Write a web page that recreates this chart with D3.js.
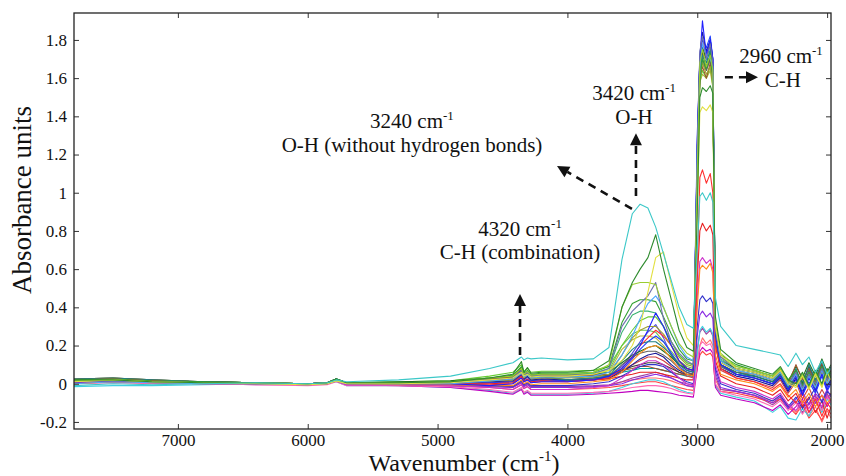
<!DOCTYPE html>
<html>
<head>
<meta charset="utf-8">
<script src="https://cdn.jsdelivr.net/npm/d3@7"></script>
<style>
body { margin: 0; background: #fff; }
svg { display: block; }
text { font-family: "Liberation Serif", "Times New Roman", Times, serif; }
</style>
</head>
<body>
<svg id="chart" width="846" height="476"></svg>
<script>
// wavenumber grid shared by every spectrum (cm-1)
const wavenumbers = [
  7800, 7500, 7200, 6800, 6400, 6000, 5850, 5780, 5700, 5300, 4900, 4600, 4420,
  4354, 4335, 4308, 4280, 4200,
  4000, 3800, 3680, 3580, 3500, 3440, 3380, 3320, 3260, 3200, 3140, 3080, 3030,
  3000, 2980, 2960, 2930, 2900, 2880, 2860, 2820,
  2700, 2560, 2420, 2360, 2300, 2240, 2190, 2140, 2090, 2040, 2000, 1970
];

// absorbance of each spectrum at the wavenumbers above
const s01 = [-0.01, 0.0, -0.005, 0.0, 0.005, 0.0, 0.005, 0.02, 0.01, 0.02, 0.04, 0.08, 0.11,
  0.14, 0.125, 0.135, 0.13, 0.135,
  0.125, 0.13, 0.19, 0.65, 0.89, 0.94, 0.92, 0.82, 0.68, 0.54, 0.40, 0.31, 0.29,
  0.7, 0.98, 1.0, 0.96, 1.0, 0.95, 0.45, 0.3,
  0.2, 0.18, 0.16, 0.15, 0.09, 0.16, 0.1, 0.14, 0.06, 0.12, 0.05, 0.08];
const s02 = [0.02, 0.02, 0.01, 0.005, 0.005, 0.0, 0.005, 0.025, 0.005, 0.005, 0.01, 0.03, 0.05,
  0.116, 0.06, 0.085, 0.055, 0.06,
  0.06, 0.07, 0.12, 0.4, 0.53, 0.6, 0.66, 0.78, 0.6, 0.44, 0.28, 0.19, 0.17,
  0.9, 1.5, 1.55, 1.53, 1.56, 1.52, 0.35, 0.18,
  0.11, 0.08, 0.05, 0.09, 0.02, 0.0, 0.06, -0.01, 0.07, 0.0, 0.08, 0.03];
const s03 = [0.01, 0.02, 0.01, 0.005, 0.0, -0.005, 0.0, 0.015, 0.0, 0.0, 0.005, 0.02, 0.03,
  0.06, 0.04, 0.05, 0.035, 0.04,
  0.04, 0.05, 0.07, 0.12, 0.2, 0.3, 0.48, 0.66, 0.69, 0.52, 0.36, 0.24, 0.2,
  0.9, 1.42, 1.45, 1.43, 1.46, 1.42, 0.3, 0.15,
  0.08, 0.06, 0.03, 0.07, 0.0, -0.02, 0.04, -0.03, 0.05, -0.02, 0.06, 0.02];
const s04 = [0.015, 0.02, 0.01, 0.005, 0.005, 0.0, 0.005, 0.02, 0.005, 0.005, 0.01, 0.03, 0.04,
  0.08, 0.05, 0.065, 0.045, 0.05,
  0.05, 0.06, 0.1, 0.4, 0.52, 0.53, 0.53, 0.52, 0.4, 0.3, 0.21, 0.16, 0.14,
  1.1, 1.68, 1.75, 1.66, 1.72, 1.64, 0.32, 0.16,
  0.09, 0.07, 0.04, 0.08, 0.01, -0.01, 0.05, -0.02, 0.06, -0.01, 0.07, 0.03];
const s05 = [0.01, 0.015, 0.01, 0.005, 0.005, 0.0, 0.005, 0.02, 0.005, 0.0, 0.005, 0.02, 0.03,
  0.07, 0.045, 0.06, 0.04, 0.045,
  0.045, 0.05, 0.08, 0.3, 0.38, 0.42, 0.46, 0.53, 0.34, 0.22, 0.16, 0.12, 0.1,
  1.2, 1.74, 1.82, 1.7, 1.78, 1.68, 0.28, 0.14,
  0.08, 0.06, 0.03, 0.07, 0.0, 0.06, -0.02, 0.05, 0.0, 0.08, 0.02, 0.05];
const s06 = [0.0, 0.01, 0.005, 0.0, 0.0, -0.005, 0.0, 0.015, 0.0, 0.0, 0.0, 0.015, 0.025,
  0.055, 0.035, 0.045, 0.03, 0.035,
  0.035, 0.04, 0.06, 0.15, 0.25, 0.34, 0.42, 0.46, 0.4, 0.3, 0.2, 0.14, 0.12,
  1.2, 1.66, 1.78, 1.72, 1.7, 1.66, 0.3, 0.12,
  0.07, 0.05, 0.02, 0.06, -0.01, 0.05, -0.03, 0.04, -0.02, 0.07, 0.0, 0.04];
const s07 = [0.02, 0.025, 0.015, 0.01, 0.005, 0.0, 0.005, 0.025, 0.005, 0.005, 0.01, 0.03, 0.045,
  0.09, 0.055, 0.07, 0.05, 0.055,
  0.055, 0.06, 0.09, 0.32, 0.42, 0.44, 0.44, 0.43, 0.35, 0.26, 0.18, 0.13, 0.12,
  1.0, 1.6, 1.7, 1.65, 1.73, 1.6, 0.3, 0.15,
  0.1, 0.07, 0.04, 0.08, 0.02, 0.07, -0.01, 0.06, 0.0, 0.09, 0.02, 0.06];
const s08 = [0.01, 0.015, 0.01, 0.005, 0.0, 0.0, 0.005, 0.02, 0.0, 0.0, 0.0, -0.01, 0.0,
  0.03, 0.01, 0.02, 0.005, 0.01,
  0.01, 0.02, 0.04, 0.08, 0.14, 0.2, 0.28, 0.37, 0.3, 0.2, 0.12, 0.08, 0.07,
  1.3, 1.7, 1.9, 1.72, 1.8, 1.7, 0.25, 0.1,
  0.05, 0.03, 0.0, 0.04, -0.03, 0.04, -0.06, 0.03, -0.04, 0.05, -0.03, 0.01];
const s09 = [0.015, 0.02, 0.01, 0.005, 0.005, 0.0, 0.005, 0.02, 0.005, 0.0, 0.005, 0.015, 0.02,
  0.055, 0.03, 0.045, 0.025, 0.03,
  0.03, 0.035, 0.05, 0.15, 0.24, 0.28, 0.3, 0.3, 0.26, 0.2, 0.14, 0.1, 0.09,
  1.1, 1.6, 1.68, 1.62, 1.66, 1.58, 0.25, 0.12,
  0.07, 0.05, 0.02, 0.06, -0.01, 0.04, -0.03, 0.03, -0.02, 0.06, 0.0, 0.03];
const s10 = [0.02, 0.025, 0.015, 0.005, 0.005, 0.0, 0.005, 0.02, 0.0, 0.0, 0.0, -0.005, 0.0,
  0.035, 0.01, 0.02, 0.005, 0.01,
  0.01, 0.02, 0.03, 0.08, 0.14, 0.2, 0.24, 0.28, 0.25, 0.2, 0.12, 0.08, 0.07,
  0.6, 1.08, 1.12, 1.05, 1.1, 1.0, 0.2, 0.08,
  0.03, 0.01, -0.03, 0.0, -0.06, -0.1, -0.05, -0.15, -0.08, -0.17, -0.1, -0.13];
const s11 = [0.025, 0.03, 0.02, 0.01, 0.005, 0.0, 0.005, 0.025, 0.005, 0.005, 0.01, 0.02, 0.03,
  0.07, 0.04, 0.055, 0.035, 0.04,
  0.02, 0.03, 0.04, 0.12, 0.18, 0.21, 0.22, 0.22, 0.19, 0.15, 0.1, 0.07, 0.06,
  1.15, 1.65, 1.72, 1.68, 1.74, 1.62, 0.24, 0.1,
  0.06, 0.04, 0.01, 0.05, -0.02, 0.08, -0.01, 0.1, 0.02, 0.12, 0.04, 0.09];
const s12 = [0.0, 0.01, 0.005, 0.0, 0.0, -0.005, 0.0, 0.015, 0.0, -0.005, -0.005, -0.01, -0.01,
  0.02, 0.0, 0.01, -0.005, 0.0,
  0.0, 0.01, 0.02, 0.06, 0.12, 0.16, 0.19, 0.2, 0.18, 0.13, 0.08, 0.05, 0.04,
  0.4, 0.6, 0.62, 0.6, 0.63, 0.58, 0.15, 0.05,
  0.02, 0.0, -0.04, -0.01, -0.07, -0.03, -0.1, -0.05, -0.12, -0.06, -0.1, -0.08];
const s13 = [0.02, 0.025, 0.015, 0.01, 0.005, 0.0, 0.005, 0.025, 0.005, 0.005, 0.005, 0.015, 0.02,
  0.06, 0.035, 0.05, 0.03, 0.035,
  0.02, 0.03, 0.035, 0.1, 0.14, 0.16, 0.17, 0.17, 0.15, 0.12, 0.08, 0.06, 0.05,
  1.1, 1.62, 1.7, 1.64, 1.7, 1.6, 0.22, 0.09,
  0.05, 0.03, 0.0, 0.04, -0.03, 0.05, -0.02, 0.07, -0.01, 0.09, 0.03, 0.06];
const s14 = [0.015, 0.02, 0.01, 0.005, 0.0, -0.005, 0.0, 0.015, -0.005, -0.005, -0.01, -0.02, -0.03,
  -0.005, -0.025, -0.015, -0.03, -0.03,
  -0.03, -0.02, -0.01, 0.03, 0.07, 0.1, 0.12, 0.12, 0.1, 0.07, 0.03, 0.0, -0.01,
  0.45, 0.64, 0.66, 0.63, 0.65, 0.6, 0.1, 0.01,
  -0.02, -0.04, -0.08, -0.05, -0.11, -0.14, -0.09, -0.13, -0.07, -0.12, -0.06, -0.09];
const s15 = [0.01, 0.015, 0.01, 0.005, 0.0, 0.0, 0.005, 0.02, 0.0, 0.0, -0.005, -0.01, -0.015,
  0.015, -0.005, 0.005, -0.01, -0.01,
  -0.01, 0.0, 0.01, 0.04, 0.07, 0.09, 0.1, 0.1, 0.09, 0.06, 0.03, 0.01, 0.0,
  0.3, 0.44, 0.46, 0.43, 0.45, 0.42, 0.08, 0.0,
  -0.03, -0.05, -0.09, -0.06, -0.12, -0.07, -0.13, -0.08, -0.02, -0.1, -0.04, -0.06];
const s16 = [0.025, 0.03, 0.02, 0.01, 0.005, 0.0, 0.005, 0.025, 0.005, 0.005, 0.01, 0.025, 0.035,
  0.075, 0.045, 0.06, 0.04, 0.045,
  0.04, 0.045, 0.05, 0.07, 0.08, 0.09, 0.09, 0.08, 0.07, 0.06, 0.05, 0.05, 0.05,
  1.1, 1.6, 1.66, 1.6, 1.68, 1.58, 0.2, 0.1,
  0.06, 0.05, 0.02, 0.06, 0.0, 0.1, 0.02, 0.08, 0.0, 0.11, 0.04, 0.08];
const s17 = [0.01, 0.02, 0.01, 0.005, 0.0, 0.0, 0.0, 0.015, 0.0, 0.0, 0.0, 0.0, 0.005,
  0.04, 0.015, 0.025, 0.01, 0.015,
  0.01, 0.02, 0.025, 0.04, 0.05, 0.06, 0.06, 0.06, 0.05, 0.04, 0.03, 0.02, 0.02,
  0.55, 0.8, 0.84, 0.8, 0.83, 0.78, 0.12, 0.04,
  0.0, -0.02, -0.06, -0.03, -0.09, -0.05, -0.12, -0.07, -0.15, -0.09, -0.18, -0.12];
const s18 = [0.005, 0.01, 0.005, 0.0, 0.0, -0.005, 0.0, 0.015, -0.005, -0.005, -0.01, -0.015, -0.02,
  0.005, -0.015, -0.005, -0.02, -0.02,
  -0.02, -0.015, -0.01, 0.0, 0.02, 0.03, 0.04, 0.05, 0.04, 0.03, 0.01, -0.01, -0.015,
  0.25, 0.36, 0.38, 0.35, 0.37, 0.34, 0.06, -0.02,
  -0.04, -0.06, -0.1, -0.07, -0.13, -0.08, -0.04, -0.11, -0.05, -0.09, -0.03, -0.07];
const s19 = [0.025, 0.03, 0.02, 0.01, 0.005, 0.0, 0.005, 0.025, 0.005, 0.01, 0.015, 0.03, 0.04,
  0.085, 0.05, 0.065, 0.045, 0.05,
  0.045, 0.05, 0.06, 0.11, 0.15, 0.17, 0.19, 0.2, 0.17, 0.14, 0.1, 0.08, 0.07,
  1.2, 1.7, 1.76, 1.7, 1.78, 1.66, 0.26, 0.12,
  0.08, 0.06, 0.03, 0.07, 0.01, 0.09, 0.03, 0.11, 0.04, 0.13, 0.06, 0.1];
const s20 = [0.0, 0.005, 0.0, 0.0, -0.005, -0.01, -0.005, 0.01, -0.01, -0.01, -0.015, -0.03, -0.045,
  -0.02, -0.045, -0.035, -0.05, -0.05,
  -0.05, -0.045, -0.04, -0.03, -0.02, -0.015, -0.01, -0.01, -0.015, -0.025, -0.04, -0.05, -0.055,
  0.1, 0.2, 0.22, 0.2, 0.21, 0.18, 0.0, -0.04,
  -0.06, -0.08, -0.12, -0.09, -0.14, -0.1, -0.16, -0.11, -0.08, -0.14, -0.07, -0.1];
const s21 = [0.01, 0.015, 0.01, 0.0, -0.005, -0.005, 0.0, 0.015, -0.005, -0.01, -0.02, -0.04, -0.055,
  -0.03, -0.055, -0.045, -0.06, -0.06,
  -0.06, -0.055, -0.05, -0.045, -0.04, -0.035, -0.035, -0.04, -0.045, -0.05, -0.06, -0.065, -0.07,
  0.08, 0.17, 0.19, 0.17, 0.18, 0.16, -0.02, -0.06,
  -0.08, -0.1, -0.14, -0.11, -0.16, -0.12, -0.08, -0.15, -0.1, -0.06, -0.12, -0.08];
const s22 = [-0.015, -0.01, -0.01, -0.005, 0.0, -0.005, 0.0, 0.01, -0.01, -0.01, -0.02, -0.035, -0.05,
  -0.025, -0.05, -0.04, -0.055, -0.055,
  -0.055, -0.05, -0.04, -0.02, 0.0, 0.01, 0.02, 0.02, 0.01, -0.01, -0.03, -0.045, -0.05,
  0.15, 0.28, 0.3, 0.27, 0.29, 0.26, -0.01, -0.05,
  -0.07, -0.09, -0.15, -0.12, -0.18, -0.19, -0.13, -0.17, -0.09, -0.15, -0.08, -0.11];
const s23 = [0.02, 0.025, 0.015, 0.01, 0.005, 0.0, 0.005, 0.02, 0.005, 0.01, 0.015, 0.04, 0.06,
  0.1, 0.065, 0.08, 0.06, 0.065,
  0.065, 0.07, 0.09, 0.2, 0.28, 0.33, 0.35, 0.35, 0.3, 0.22, 0.15, 0.11, 0.1,
  1.05, 1.58, 1.64, 1.6, 1.66, 1.56, 0.28, 0.14,
  0.09, 0.07, 0.04, 0.08, 0.02, 0.06, -0.01, 0.05, 0.01, 0.08, 0.03, 0.06];
const s24 = [0.015, 0.02, 0.01, 0.005, 0.0, 0.0, 0.005, 0.02, 0.0, 0.0, 0.005, 0.01, 0.015,
  0.05, 0.025, 0.04, 0.02, 0.025,
  0.02, 0.025, 0.03, 0.06, 0.1, 0.13, 0.15, 0.16, 0.14, 0.1, 0.07, 0.05, 0.04,
  1.25, 1.72, 1.84, 1.74, 1.8, 1.7, 0.22, 0.08,
  0.04, 0.02, -0.01, 0.03, -0.04, 0.03, -0.05, 0.05, -0.03, 0.07, -0.01, 0.02];
const s25 = [0.0, 0.01, 0.005, 0.0, 0.0, -0.005, 0.0, 0.015, -0.005, -0.005, -0.01, -0.02, -0.03,
  -0.005, -0.025, -0.015, -0.03, -0.03,
  -0.03, -0.025, -0.02, -0.01, 0.0, 0.005, 0.01, 0.01, 0.0, -0.01, -0.02, -0.03, -0.035,
  0.08, 0.15, 0.17, 0.15, 0.16, 0.14, -0.01, -0.04,
  -0.05, -0.07, -0.1, -0.08, -0.12, -0.16, -0.11, -0.18, -0.14, -0.19, -0.13, -0.16];
const s26 = [0.02, 0.025, 0.015, 0.01, 0.005, 0.0, 0.005, 0.025, 0.005, 0.005, 0.01, 0.02, 0.025,
  0.065, 0.04, 0.055, 0.035, 0.04,
  0.035, 0.04, 0.045, 0.07, 0.09, 0.1, 0.11, 0.11, 0.1, 0.08, 0.06, 0.05, 0.05,
  1.15, 1.64, 1.74, 1.66, 1.72, 1.62, 0.22, 0.1,
  0.06, 0.04, 0.01, 0.05, -0.02, 0.07, 0.0, 0.09, 0.02, 0.1, 0.03, 0.07];
const s27 = [0.02, 0.025, 0.015, 0.01, 0.005, 0.0, 0.005, 0.025, 0.005, 0.005, 0.01, 0.03, 0.04,
  0.08, 0.05, 0.065, 0.045, 0.05,
  0.05, 0.055, 0.08, 0.27, 0.36, 0.38, 0.38, 0.37, 0.3, 0.22, 0.15, 0.11, 0.1,
  1.1, 1.66, 1.72, 1.66, 1.7, 1.62, 0.28, 0.13,
  0.08, 0.06, 0.03, 0.07, 0.0, 0.05, -0.02, 0.04, 0.0, 0.07, 0.02, 0.05];
const s28 = [0.01, 0.015, 0.01, 0.005, 0.0, 0.0, 0.005, 0.02, 0.0, 0.0, 0.0, 0.005, 0.01,
  0.045, 0.02, 0.035, 0.015, 0.02,
  0.015, 0.02, 0.03, 0.07, 0.13, 0.18, 0.22, 0.25, 0.22, 0.16, 0.1, 0.07, 0.06,
  1.2, 1.7, 1.8, 1.76, 1.82, 1.7, 0.24, 0.1,
  0.05, 0.03, 0.0, 0.04, -0.03, 0.02, -0.06, 0.01, -0.05, 0.04, -0.04, 0.0];
const s29 = [0.02, 0.02, 0.015, 0.01, 0.005, 0.0, 0.005, 0.02, 0.005, 0.005, 0.01, 0.02, 0.03,
  0.065, 0.04, 0.05, 0.035, 0.04,
  0.04, 0.045, 0.06, 0.18, 0.23, 0.25, 0.25, 0.24, 0.2, 0.15, 0.11, 0.08, 0.07,
  1.1, 1.58, 1.62, 1.6, 1.64, 1.55, 0.24, 0.11,
  0.07, 0.05, 0.02, 0.06, -0.01, 0.05, -0.02, 0.06, -0.01, 0.08, 0.01, 0.05];
const s30 = [0.015, 0.02, 0.01, 0.005, 0.0, 0.0, 0.005, 0.02, 0.0, 0.0, 0.0, 0.005, 0.01,
  0.045, 0.02, 0.035, 0.015, 0.02,
  0.015, 0.02, 0.03, 0.07, 0.1, 0.12, 0.14, 0.14, 0.12, 0.09, 0.06, 0.04, 0.03,
  1.15, 1.66, 1.7, 1.74, 1.68, 1.62, 0.2, 0.07,
  0.03, 0.01, -0.02, 0.02, -0.05, 0.01, -0.08, -0.02, -0.1, -0.03, -0.08, -0.05];
const s31 = [0.01, 0.015, 0.01, 0.005, 0.0, 0.0, 0.005, 0.02, 0.0, 0.0, 0.005, 0.01, 0.02,
  0.05, 0.03, 0.04, 0.025, 0.03,
  0.02, 0.03, 0.04, 0.09, 0.16, 0.22, 0.27, 0.31, 0.24, 0.15, 0.09, 0.06, 0.05,
  1.25, 1.7, 1.76, 1.7, 1.8, 1.68, 0.23, 0.1,
  0.05, 0.03, 0.0, 0.04, -0.02, 0.05, -0.04, 0.04, -0.03, 0.06, -0.02, 0.02];
const s32 = [0.02, 0.025, 0.015, 0.01, 0.005, 0.0, 0.005, 0.025, 0.005, 0.005, 0.01, 0.02, 0.03,
  0.07, 0.045, 0.055, 0.04, 0.045,
  0.04, 0.045, 0.05, 0.06, 0.07, 0.08, 0.08, 0.08, 0.07, 0.06, 0.05, 0.04, 0.04,
  1.15, 1.66, 1.72, 1.68, 1.75, 1.64, 0.22, 0.09,
  0.05, 0.04, 0.01, 0.05, -0.01, 0.06, 0.01, 0.08, 0.01, 0.1, 0.03, 0.07];
const s33 = [0.02, 0.025, 0.015, 0.01, 0.005, 0.0, 0.005, 0.02, 0.005, 0.005, 0.01, 0.025, 0.035,
  0.075, 0.045, 0.06, 0.04, 0.045,
  0.045, 0.05, 0.07, 0.2, 0.26, 0.28, 0.28, 0.27, 0.22, 0.17, 0.12, 0.09, 0.08,
  1.1, 1.62, 1.68, 1.64, 1.7, 1.6, 0.26, 0.12,
  0.08, 0.06, 0.03, 0.07, 0.0, 0.06, -0.01, 0.05, 0.0, 0.08, 0.02, 0.06];
const s34 = [0.005, 0.01, 0.005, 0.0, 0.0, -0.005, 0.0, 0.015, -0.005, -0.005, -0.01, -0.01, -0.015,
  0.01, -0.01, 0.0, -0.015, -0.015,
  -0.015, -0.01, -0.005, 0.01, 0.03, 0.04, 0.05, 0.06, 0.05, 0.03, 0.01, 0.0, -0.005,
  0.18, 0.27, 0.29, 0.26, 0.28, 0.25, 0.04, -0.03,
  -0.04, -0.06, -0.11, -0.08, -0.13, -0.09, -0.15, -0.1, -0.06, -0.13, -0.05, -0.09];
const s35 = [0.01, 0.015, 0.01, 0.005, 0.0, 0.0, 0.0, 0.015, 0.0, -0.005, -0.005, -0.01, -0.02,
  0.005, -0.015, -0.005, -0.02, -0.02,
  -0.02, -0.015, -0.01, 0.01, 0.02, 0.025, 0.03, 0.03, 0.025, 0.015, 0.0, -0.01, -0.02,
  0.12, 0.2, 0.24, 0.21, 0.23, 0.2, 0.02, -0.03,
  -0.04, -0.06, -0.09, -0.07, -0.11, -0.15, -0.1, -0.17, -0.12, -0.2, -0.14, -0.18];

const spectra = [s01, s02, s03, s04, s05, s06, s07, s08, s09, s10, s11, s12, s13, s14,
  s15, s16, s17, s18, s19, s20, s21, s22, s23, s24, s25, s26, s27, s28,
  s29, s30, s31, s32, s33, s34, s35];
const lineColors = ["#3cc8c8", "#2e8b2e", "#e2e040", "#9acd32", "#7070b0", "#4da6ff", "#33a033",
  "#2020ff", "#a0a030", "#ff3030", "#208080", "#ff8c1a", "#606060", "#cc33cc",
  "#3333cc", "#a0522d", "#e82020", "#8a2be2", "#1f6f1f", "#ff69b4", "#c000c0",
  "#40d0e0", "#66cc33", "#1a1a99", "#ff4040", "#404040", "#3cb371", "#1e40ff",
  "#b5b53a", "#d04040", "#5050e0", "#00a0a0", "#70c050", "#a040a0", "#ff7070"];

const xTicks = [7000, 6000, 5000, 4000, 3000, 2000];
const yTicks = [-0.2, 0, 0.2, 0.4, 0.6, 0.8, 1, 1.2, 1.4, 1.6, 1.8];
const yTickLabels = ["-0.2", "0", "0.2", "0.4", "0.6", "0.8", "1", "1.2", "1.4", "1.6", "1.8"];

// annotation labels and arrows, in data coordinates (wavenumber, absorbance)
const labelLines = [
  {w: 5197, a: 1.339, main: "3240 cm", sup: "-1"},
  {w: 5197, a: 1.213, main: "O-H (without hydrogen bonds)"},
  {w: 3487, a: 1.485, main: "3420 cm", sup: "-1"},
  {w: 3487, a: 1.360, main: "O-H"},
  {w: 2355, a: 1.679, main: "2960 cm", sup: "-1"},
  {w: 2340, a: 1.553, main: "C-H"},
  {w: 4365, a: 0.773, main: "4320 cm", sup: "-1"},
  {w: 4365, a: 0.653, main: "C-H (combination)"}
];
const arrows = [
  {w0: 2787, a0: 1.605, w1: 2532, a1: 1.605},
  {w0: 3472, a0: 0.983, w1: 3472, a1: 1.312},
  {w0: 3503, a0: 0.916, w1: 4080, a1: 1.140},
  {w0: 4365, a0: 0.150, w1: 4365, a1: 0.470}
];

const svg = d3.select("#chart");
const plotL = 74, plotR = 831, plotT = 13, plotB = 429;

const x = d3.scaleLinear().domain([7800, 1970]).range([plotL, plotR]);
const y = d3.scaleLinear().domain([-0.237, 1.941]).range([plotB, plotT]);

svg.append("defs").append("clipPath").attr("id", "plotclip")
  .append("rect").attr("x", plotL).attr("y", plotT)
  .attr("width", plotR - plotL).attr("height", plotB - plotT);

// spectra
const line = d3.line()
  .x((d, i) => x(wavenumbers[i]))
  .y(d => y(d));

svg.append("g").attr("clip-path", "url(#plotclip)")
  .selectAll("path")
  .data(spectra.map((s, i) => ({s, i})).reverse())
  .enter().append("path")
  .attr("d", d => line(d.s))
  .attr("fill", "none")
  .attr("stroke", d => lineColors[d.i])
  .attr("stroke-width", 1.1)
  .attr("stroke-linejoin", "round");

// axes: ticks inside on all four sides, labels on bottom and left
svg.append("g").attr("transform", `translate(0,${plotB})`)
  .call(d3.axisBottom(x).tickValues(xTicks).tickSize(-5).tickPadding(5).tickFormat(d3.format("d")));
svg.append("g").attr("transform", `translate(${plotL},0)`)
  .call(d3.axisLeft(y).tickValues(yTicks).tickSize(-5).tickPadding(7)
    .tickFormat((d, i) => yTickLabels[i]));
svg.append("g").attr("transform", `translate(0,${plotT})`)
  .call(d3.axisTop(x).tickValues(xTicks).tickSize(-5).tickFormat(""));
svg.append("g").attr("transform", `translate(${plotR},0)`)
  .call(d3.axisRight(y).tickValues(yTicks).tickSize(-5).tickFormat(""));

svg.selectAll(".domain").remove();
svg.selectAll(".tick line").attr("stroke", "#333");
svg.selectAll(".tick text")
  .attr("font-size", 17)
  .attr("fill", "#111");

svg.append("rect")
  .attr("x", plotL).attr("y", plotT)
  .attr("width", plotR - plotL).attr("height", plotB - plotT)
  .attr("fill", "none").attr("stroke", "#222").attr("stroke-width", 1.3);

// axis titles
const xTitle = svg.append("text")
  .attr("x", 464).attr("y", 471)
  .attr("text-anchor", "middle").attr("font-size", 24).attr("fill", "#111");
xTitle.append("tspan").text("Wavenumber (cm");
xTitle.append("tspan").attr("font-size", 15).attr("dy", -10).text("-1");
xTitle.append("tspan").attr("dy", 10).text(")");

svg.append("text")
  .attr("transform", "translate(31,200) rotate(-90)")
  .attr("text-anchor", "middle").attr("font-size", 27).attr("fill", "#111")
  .text("Absorbance units");

// annotations
labelLines.forEach(l => {
  const t = svg.append("text")
    .attr("x", x(l.w)).attr("y", y(l.a))
    .attr("text-anchor", "middle").attr("font-size", 21).attr("fill", "#111");
  t.append("tspan").text(l.main);
  if (l.sup) t.append("tspan").attr("font-size", 13).attr("dy", -8).text(l.sup);
});

arrows.forEach(a => {
  const x0 = x(a.w0), y0 = y(a.a0), x1 = x(a.w1), y1 = y(a.a1);
  const ang = Math.atan2(y1 - y0, x1 - x0);
  const headLen = 12, headHalf = 6;
  const bx = x1 - headLen * Math.cos(ang), by = y1 - headLen * Math.sin(ang);
  svg.append("line")
    .attr("x1", x0).attr("y1", y0).attr("x2", bx).attr("y2", by)
    .attr("stroke", "#111").attr("stroke-width", 2.6)
    .attr("stroke-dasharray", "8,6");
  const px = -Math.sin(ang), py = Math.cos(ang);
  svg.append("path")
    .attr("d", `M${x1},${y1}L${bx + px * headHalf},${by + py * headHalf}L${bx - px * headHalf},${by - py * headHalf}Z`)
    .attr("fill", "#111");
});
</script>
</body>
</html>
